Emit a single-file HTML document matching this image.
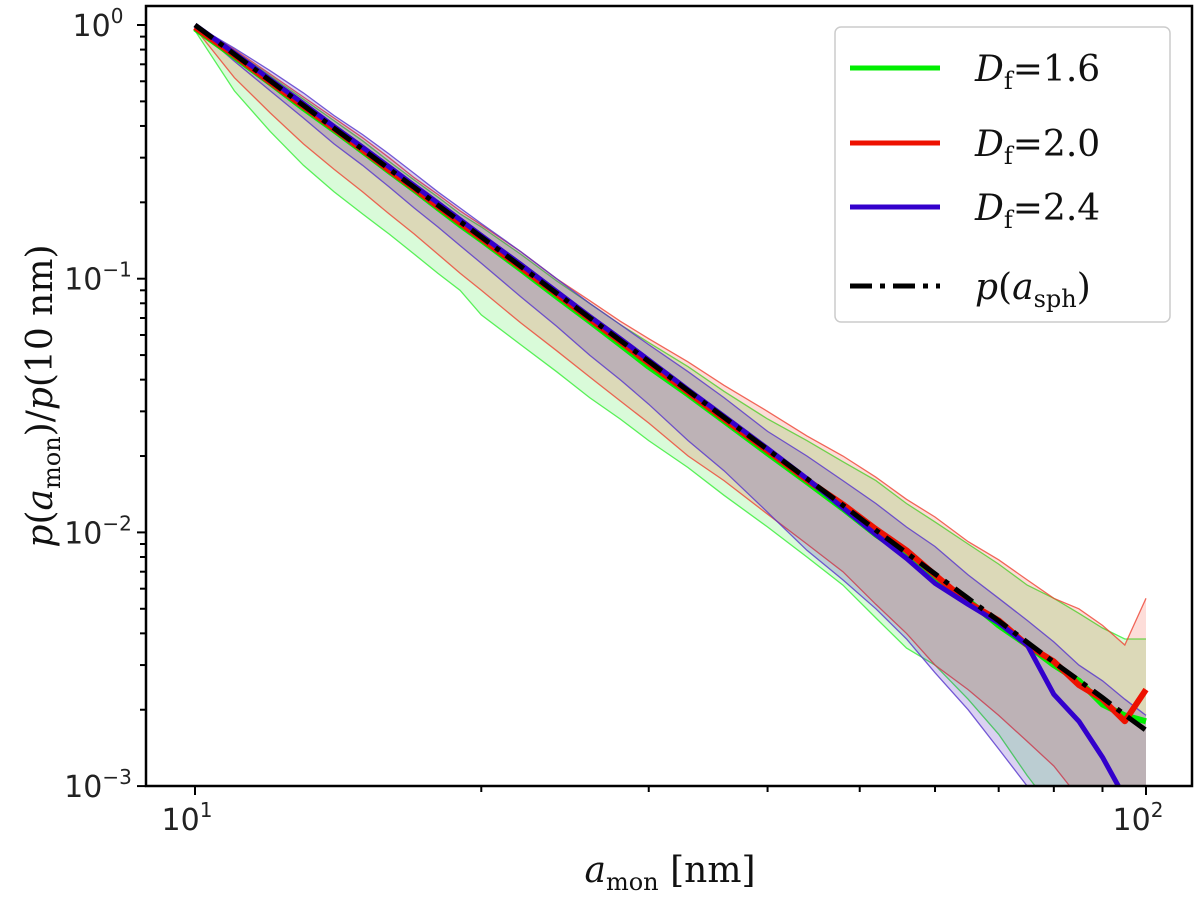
<!DOCTYPE html>
<html><head><meta charset="utf-8">
<style>
body{margin:0;background:#fff;}
svg{display:block;}
.tk{font-family:"DejaVu Sans","Liberation Sans",sans-serif;font-size:30px;fill:#222;}
.mt{font-family:"DejaVu Serif","Liberation Serif",serif;font-size:36px;fill:#111;}
</style></head>
<body>
<svg id="chart" width="1200" height="903" xmlns="http://www.w3.org/2000/svg">
<defs><clipPath id="pc"><rect x="146" y="6" width="1046" height="780"/></clipPath></defs>
<g id="bands" clip-path="url(#pc)"></g>
<g id="lines" clip-path="url(#pc)"></g>
<rect x="146" y="6" width="1046" height="780" fill="none" stroke="#000" stroke-width="2.5"/>
<g id="axes"></g>
<text class="mt" x="670" y="882" text-anchor="middle"><tspan font-style="italic">a</tspan><tspan font-size="24" dy="8">mon</tspan><tspan dy="-8"> [nm]</tspan></text>
<text class="mt" transform="translate(52,396) rotate(-90)" text-anchor="middle"><tspan font-style="italic">p</tspan>(<tspan font-style="italic">a</tspan><tspan font-size="24" dy="8">mon</tspan><tspan dy="-8">)/</tspan><tspan font-style="italic">p</tspan>(10 nm)</text>
<g>
<rect x="835" y="27" width="335" height="295" rx="6" fill="#fff" stroke="#ccc" stroke-width="1.5"/>
<line x1="850" y1="68" x2="940" y2="68" stroke="#00ee00" stroke-width="5"/>
<text class="mt" x="975" y="81"><tspan font-style="italic">D</tspan><tspan font-size="24" dy="8">f</tspan><tspan dy="-8">=1.6</tspan></text>
<line x1="850" y1="143" x2="940" y2="143" stroke="#ee1100" stroke-width="5"/>
<text class="mt" x="975" y="156"><tspan font-style="italic">D</tspan><tspan font-size="24" dy="8">f</tspan><tspan dy="-8">=2.0</tspan></text>
<line x1="850" y1="207" x2="940" y2="207" stroke="#3300cc" stroke-width="5"/>
<text class="mt" x="975" y="220"><tspan font-style="italic">D</tspan><tspan font-size="24" dy="8">f</tspan><tspan dy="-8">=2.4</tspan></text>
<line x1="850" y1="286" x2="940" y2="286" stroke="#000" stroke-width="5" stroke-dasharray="22,8,5,8"/>
<text class="mt" x="975" y="299"><tspan font-style="italic">p</tspan>(<tspan font-style="italic">a</tspan><tspan font-size="24" dy="8">sph</tspan><tspan dy="-8">)</tspan></text>
</g>
</svg>
<script>
const xs=[10,11,12,13,14,15,16,17,18,19,20,22,24,26,28,30,33,36,40,44,48,52,56,60,65,70,75,80,85,90,95,100];
const sph=[1,.767,.602,.482,.392,.324,.271,.229,.195,.168,.146,.112,.0877,.0702,.0571,.0472,.0362,.0284,.0212,.0163,.0128,.0102,.0083,.00687,.0055,.00448,.00369,.00308,.00261,.00223,.00191,.00166];
const gMean=[.97,.75,.59,.47,.385,.318,.265,.224,.19,.163,.142,.109,.085,.068,.055,.045,.035,.0275,.0205,.0158,.0124,.0098,.0081,.0066,.0054,.0043,.0036,.0030,.0026,.0021,.0019,.0018];
const rMean=[.98,.76,.595,.478,.39,.322,.268,.227,.193,.166,.144,.111,.087,.0695,.0565,.0465,.0357,.028,.021,.0161,.0129,.0103,.0085,.0068,.0053,.0045,.0036,.0031,.0025,.0022,.0018,.0024];
const bMean=[1,.775,.61,.49,.398,.33,.276,.233,.199,.171,.148,.114,.089,.071,.058,.0478,.0365,.0287,.0214,.0163,.0125,.0098,.0079,.0063,.0052,.0044,.0036,.0023,.0018,.0013,.0009,.0007];
const gLow=[.95,.55,.38,.28,.22,.18,.15,.125,.105,.09,.072,.055,.043,.034,.028,.023,.018,.014,.0105,.008,.0062,.0046,.0035,.003,.0022,.0016,.0011,.0008,.0007,.0007,.0007,.0007];
const gHigh=[1,.79,.63,.51,.42,.35,.29,.245,.21,.18,.16,.125,.098,.08,.066,.056,.045,.036,.028,.023,.019,.016,.013,.011,.009,.0075,.0062,.0055,.0048,.0042,.0038,.0038];
const rLow=[.97,.62,.45,.34,.27,.22,.18,.15,.125,.105,.09,.067,.052,.041,.033,.027,.02,.016,.0118,.009,.007,.0052,.004,.003,.0024,.0019,.0015,.0012,.0009,.0007,.0007,.0007];
const rHigh=[1,.8,.64,.52,.43,.36,.3,.25,.215,.185,.163,.128,.1,.082,.068,.058,.047,.038,.03,.024,.02,.0165,.0135,.0115,.0092,.0078,.0065,.0055,.005,.0043,.0036,.0055];
const bLow=[.98,.72,.55,.43,.34,.28,.23,.19,.16,.135,.115,.085,.065,.05,.04,.032,.023,.0175,.012,.0085,.0065,.005,.0038,.0028,.002,.0014,.001,.0007,.0006,.0006,.0006,.0006];
const bHigh=[1,.81,.66,.54,.44,.37,.31,.26,.22,.19,.165,.128,.1,.08,.066,.055,.043,.034,.025,.02,.016,.013,.0105,.0088,.0068,.0055,.0045,.0037,.003,.0026,.0022,.0019];
const xTickLabels=["1","2"];
const yTickLabels=["0","-1","-2","-3"];

const X=v=>195+(Math.log10(v)-1)*951;
const Y=v=>25+(-Math.log10(v))*253.7;
const NS="http://www.w3.org/2000/svg";
function mk(tag,attrs,parent){const e=document.createElementNS(NS,tag);for(const k in attrs)e.setAttribute(k,attrs[k]);parent.appendChild(e);return e;}
const bands=document.getElementById('bands'),lines=document.getElementById('lines'),axes=document.getElementById('axes');
function pts(arr){return arr.map((v,i)=>X(xs[i]).toFixed(1)+','+Y(v).toFixed(1));}
function band(lo,hi,fill,stroke,name){
  const p=mk('polygon',{points:pts(hi).concat(pts(lo).reverse()).join(' '),fill:fill,stroke:'none'},bands);
  
  
  [lo,hi].forEach((a,j)=>{const l=mk('polyline',{points:pts(a).join(' '),fill:'none',stroke:stroke,'stroke-width':1.3,'stroke-opacity':0.8},bands);
  
  });
}
band(gLow,gHigh,'rgba(0,230,0,0.15)','#33ee33','df-1.6');
band(rLow,rHigh,'rgba(240,30,0,0.15)','#ee4433','df-2.0');
band(bLow,bHigh,'rgba(50,0,180,0.18)','#5533cc','df-2.4');
function line(arr,color,name,w,dash){
  const l=mk('polyline',{points:pts(arr).join(' '),fill:'none',stroke:color,'stroke-width':w,'stroke-linejoin':'round'},lines);
  if(dash)l.setAttribute('stroke-dasharray',dash);
  
  
}
line(gMean,'#00ee00','line-df-1.6',6);
line(rMean,'#ee1100','line-df-2.0',6);
line(bMean,'#3300cc','line-df-2.4',5);
line(sph,'#000','line-p-sph',5,'22,8,5,8');
for(let d=1;d<=2;d++){for(let m=1;m<=9;m++){const v=Math.pow(10,d)*m;if(d===2&&m>1)break;
  const x=X(v);const maj=m===1;
  mk('line',{x1:x,y1:786,x2:x,y2:786+(maj?9:6),stroke:'#000','stroke-width':2},axes);
}}
xTickLabels.forEach((e,i)=>{const t=mk('text',{x:X(Math.pow(10,+e))-8,y:830,class:'tk','text-anchor':'middle'},axes);
t.innerHTML='10<tspan dy="-13" font-size="20">'+e+'</tspan>';

});
for(let d=-3;d<0;d++){for(let m=1;m<=9;m++){const v=Math.pow(10,d)*m;const y=Y(v);
  mk('line',{x1:146,y1:y,x2:146-(m===1?9:6),y2:y,stroke:'#000','stroke-width':2},axes);}}
mk('line',{x1:146,y1:Y(1),x2:137,y2:Y(1),stroke:'#000','stroke-width':2},axes);
yTickLabels.forEach(e=>{const y=Y(Math.pow(10,+e));const t=mk('text',{x:98,y:y+11,class:'tk','text-anchor':'middle'},axes);
t.innerHTML='10<tspan dy="-13" font-size="20">'+e.replace('-','\u2212')+'</tspan>';

});
</script>
</body></html>
